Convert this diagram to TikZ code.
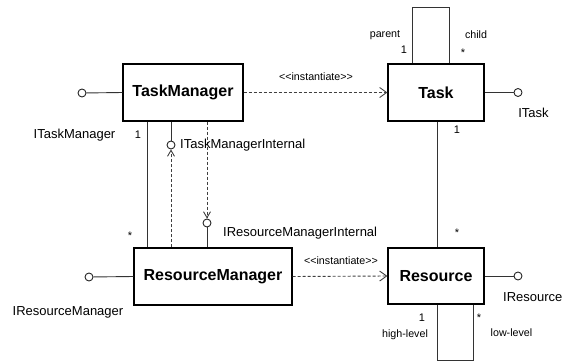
\documentclass[tikz,border=0pt]{standalone}
\usepackage{fontspec}
\setmainfont{Liberation Sans}
\usetikzlibrary{arrows.meta}
\begin{document}
\begin{tikzpicture}[x=1pt,y=-1pt,
  cls/.style={draw=black,line width=1.2pt,fill=white,inner sep=0pt,font=\fontsize{16}{16}\selectfont\bfseries},
  ball/.style={circle,draw=black!85,line width=0.9pt,fill=white,inner sep=0pt,minimum size=8pt},
  lnk/.style={draw=black!80,line width=0.9pt},
  dep/.style={draw=black!75,line width=0.9pt,dash pattern=on 3pt off 2pt},
  tipbig/.style={-{Straight Barb[length=7pt,width=10pt]}},
  tipsmall/.style={-{Straight Barb[length=6pt,width=7pt]}},
  iface/.style={inner sep=0pt,font=\fontsize{13}{13}\selectfont},
  small/.style={inner sep=0pt,font=\fontsize{10.7}{11}\selectfont},
  mult/.style={inner sep=0pt,font=\fontsize{11}{11}\selectfont}]
\useasboundingbox (0,0) rectangle (563,362);

% classes
\node[cls,minimum width=120pt,minimum height=57pt] (tm) at (183,92.5) {TaskManager};
\node[cls,minimum width=96pt,minimum height=57pt] (task) at (436,92.5) {Task};
\node[cls,minimum width=158pt,minimum height=57pt] (rm) at (213,276.5) {ResourceManager};
\node[cls,minimum width=96pt,minimum height=56pt] (res) at (436,276) {Resource};

% interface balls
\node[ball] (itm) at (82,93) {};
\node[ball] (itask) at (518,92.5) {};
\node[ball] (itmi) at (171,145) {};
\node[ball] (irmi) at (207,223) {};
\node[ball] (irm) at (89,277) {};
\node[ball] (ires) at (518,276) {};

\draw[lnk] (tm.west) -- (itm);
\draw[lnk] (task.east) -- (itask);
\draw[lnk] (rm.west) -- (irm);
\draw[lnk] (res.east) -- (ires);
\draw[lnk] (itmi) -- (itmi |- tm.south);
\draw[lnk] (irmi) -- (irmi |- rm.north);

% dependencies on internal interfaces
\draw[dep,tipsmall] (itmi |- rm.north) -- (itmi);
\draw[dep,tipsmall] (irmi |- tm.south) -- (irmi);

% associations
\coordinate (ax) at (147,0);
\draw[lnk] (ax |- tm.south) -- (ax |- rm.north);
\coordinate (bx) at (437,0);
\draw[lnk] (bx |- task.south) -- (bx |- res.north);

% self loops
\coordinate (tl1) at (412,7);
\coordinate (tl2) at (449,7);
\draw[lnk] (tl1 |- task.north) -- (tl1) -- (tl2) -- (tl2 |- task.north);
\coordinate (rl1) at (437,360);
\coordinate (rl2) at (473,360);
\draw[lnk] (rl1 |- res.south) -- (rl1) -- (rl2) -- (rl2 |- res.south);

% instantiate dependencies
\draw[dep,tipbig] (tm.east) -- (task.west);
\draw[dep,tipbig] (rm.east) -- (res.west);

% labels
\node[small] (inst1) at (316,77) {<\kern0pt<instantiate>\kern0pt>};
\node[small] (inst2) at (341,261) {<\kern0pt<instantiate>\kern0pt>};
\node[iface] (litm) at (74.5,135) {ITaskManager};
\node[iface] (litask) at (533.5,113) {ITask};
\node[iface,anchor=west] (litmi) at (180,145) {ITaskManagerInternal};
\node[iface,anchor=west] (lirmi) at (223,233) {IResourceManagerInternal};
\node[iface] (lirm) at (68,312) {IResourceManager};
\node[iface,anchor=west] (lires) at (503,297) {IResource};

\node[small] (lparent) at (385,35) {parent};
\node[small] (lchild) at (476,35) {child};
\node[small] (lhigh) at (405,335) {high-level};
\node[small] (llow) at (511.5,333) {low-level};

\node[mult] (m1) at (404,50) {1};
\node[mult] (m2) at (463,53) {*};
\node[mult] (m3) at (138,135) {1};
\node[mult] (m4) at (130,236) {*};
\node[mult] (m5) at (457,130) {1};
\node[mult] (m6) at (457,233) {*};
\node[mult] (m7) at (422,318) {1};
\node[mult] (m8) at (479,318) {*};
\end{tikzpicture}
\end{document}
